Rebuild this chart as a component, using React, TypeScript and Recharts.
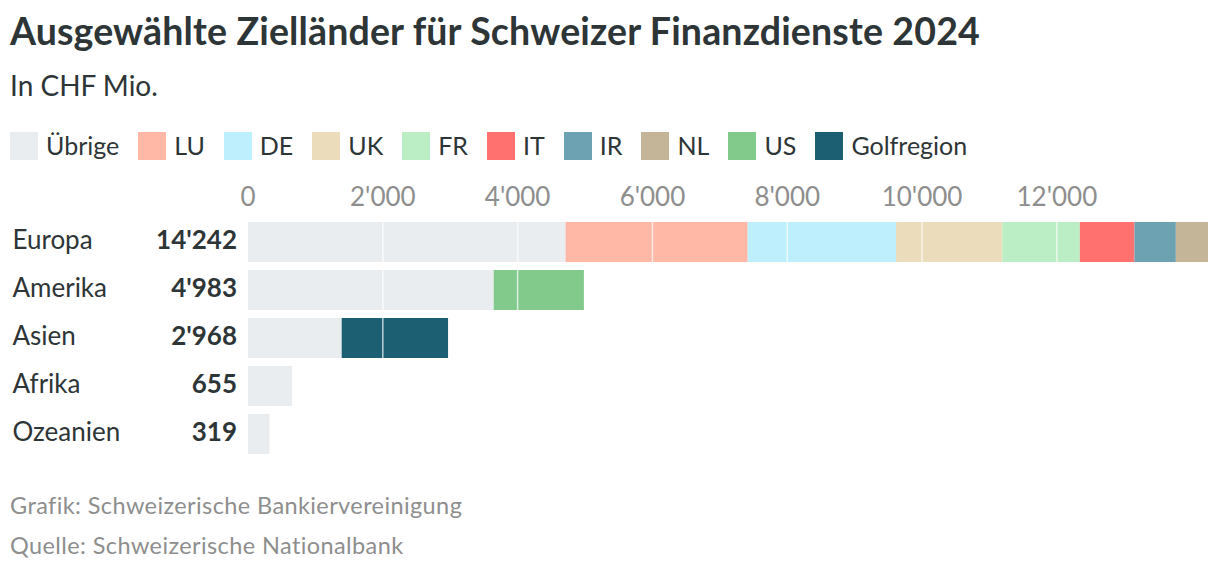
import React from 'react';
import { BarChart, Bar, XAxis, YAxis, ReferenceLine } from 'recharts';

const categories = ['Europa', 'Amerika', 'Asien', 'Afrika', 'Ozeanien'];
const totals = [14242, 4983, 2968, 655, 319];

const seriesNames = ['Übrige', 'LU', 'DE', 'UK', 'FR', 'IT', 'IR', 'NL', 'US', 'Golfregion'];
const seriesColors = ['#EAEDF0', '#FFB8A6', '#BDEFFC', '#EBDDBB', '#BBEEC5', '#FF716E', '#6DA2B2', '#C4B598', '#82C98C', '#1C5F72'];

const uebrige = [4711, 3645, 1390, 655, 319];
const lu = [2702, 0, 0, 0, 0];
const de = [2201, 0, 0, 0, 0];
const uk = [1577, 0, 0, 0, 0];
const fr = [1150, 0, 0, 0, 0];
const it = [810, 0, 0, 0, 0];
const ir = [614, 0, 0, 0, 0];
const nl = [477, 0, 0, 0, 0];
const us = [0, 1338, 0, 0, 0];
const golf = [0, 0, 1578, 0, 0];

const seriesValues = [uebrige, lu, de, uk, fr, it, ir, nl, us, golf];
const xTicks = [0, 2000, 4000, 6000, 8000, 10000, 12000];

const data = categories.map((name, i) => {
  const row: Record<string, string | number> = { name, total: totals[i] };
  seriesNames.forEach((s, k) => {
    row[s] = seriesValues[k][i];
  });
  return row;
});

const fmt = (n: number) => String(n).replace(/\B(?=(\d{3})+(?!\d))/g, "'");

const FONT = 'Lato, "Noto Sans", sans-serif';
const DARK = '#2E3537';
const GREY = '#8E8E8E';

// top of a line box (line-height = font-size) so that baseline lands at b
const topFor = (baseline: number, fs: number) => baseline - 0.887 * fs;

const YTick = (props: any) => {
  const { x, y, payload, index } = props;
  return (
    <g>
      <text x={12.5} y={y} dy={6.5} fontFamily={FONT} fontSize={26} fill={DARK} textAnchor="start">
        {payload.value}
      </text>
      <text x={x - 11} y={y} dy={6.5} fontFamily={FONT} fontSize={26} fontWeight={700} fill={DARK} textAnchor="end">
        {fmt(totals[index])}
      </text>
    </g>
  );
};

const XTick = (props: any) => {
  const { x, y, payload } = props;
  return (
    <text x={x} y={y} dy={-12} fontFamily={FONT} fontSize={26} fill={GREY} textAnchor="middle">
      {fmt(payload.value)}
    </text>
  );
};

export default function App() {
  const maxTotal = Math.max(...totals);
  return (
    <div style={{ position: 'absolute', left: 0, top: 0, width: 1220, height: 574, background: '#fff', fontFamily: FONT, color: DARK }}>
      <div style={{ position: 'absolute', left: 10, top: topFor(45, 37.5), fontSize: 37.5, lineHeight: '37.5px', fontWeight: 700, letterSpacing: 0.15, whiteSpace: 'nowrap' }}>
        Ausgewählte Zielländer für Schweizer Finanzdienste 2024
      </div>
      <div style={{ position: 'absolute', left: 10, top: topFor(95.7, 28), fontSize: 28, lineHeight: '28px', whiteSpace: 'nowrap' }}>
        In CHF Mio.
      </div>
      <div style={{ position: 'absolute', left: 10, top: 132, height: 28, display: 'flex', alignItems: 'center', whiteSpace: 'nowrap' }}>
        {seriesNames.map((s, k) => (
          <div key={s} style={{ display: 'flex', alignItems: 'center', marginRight: 19 }}>
            <div style={{ width: 28, height: 28, background: seriesColors[k], marginRight: 8 }} />
            <span style={{ fontSize: 25, lineHeight: '28px', position: 'relative', top: -1 }}>{s}</span>
          </div>
        ))}
      </div>
      <div style={{ position: 'absolute', left: 0, top: 0 }}>
        <BarChart
          width={1220}
          height={480}
          data={data}
          layout="vertical"
          margin={{ top: 188, right: 12, bottom: 22, left: 0 }}
          barSize={40}
        >
          <XAxis
            type="number"
            orientation="top"
            domain={[0, maxTotal]}
            ticks={xTicks}
            axisLine={false}
            tickLine={false}
            tickSize={0}
            tickMargin={0}
            height={30}
            tick={<XTick />}
            interval={0}
          />
          <YAxis
            type="category"
            dataKey="name"
            width={248}
            axisLine={false}
            tickLine={false}
            tickSize={0}
            tickMargin={0}
            tick={<YTick />}
            interval={0}
          />
          {seriesNames.map((s, k) => (
            <Bar key={s} dataKey={s} stackId="a" fill={seriesColors[k]} isAnimationActive={false} />
          ))}
          {xTicks.filter((v) => v > 0).map((v) => (
            <ReferenceLine key={v} x={v} stroke="#fff" strokeOpacity={0.7} strokeWidth={1.5} />
          ))}
        </BarChart>
      </div>
      <div style={{ position: 'absolute', left: 10, top: topFor(515, 23.5), fontSize: 23.5, lineHeight: '23.5px', letterSpacing: 0.4, color: GREY, whiteSpace: 'nowrap' }}>
        Grafik: Schweizerische Bankiervereinigung
      </div>
      <div style={{ position: 'absolute', left: 10, top: topFor(555, 23.5), fontSize: 23.5, lineHeight: '23.5px', letterSpacing: 0.4, color: GREY, whiteSpace: 'nowrap' }}>
        Quelle: Schweizerische Nationalbank
      </div>
    </div>
  );
}
